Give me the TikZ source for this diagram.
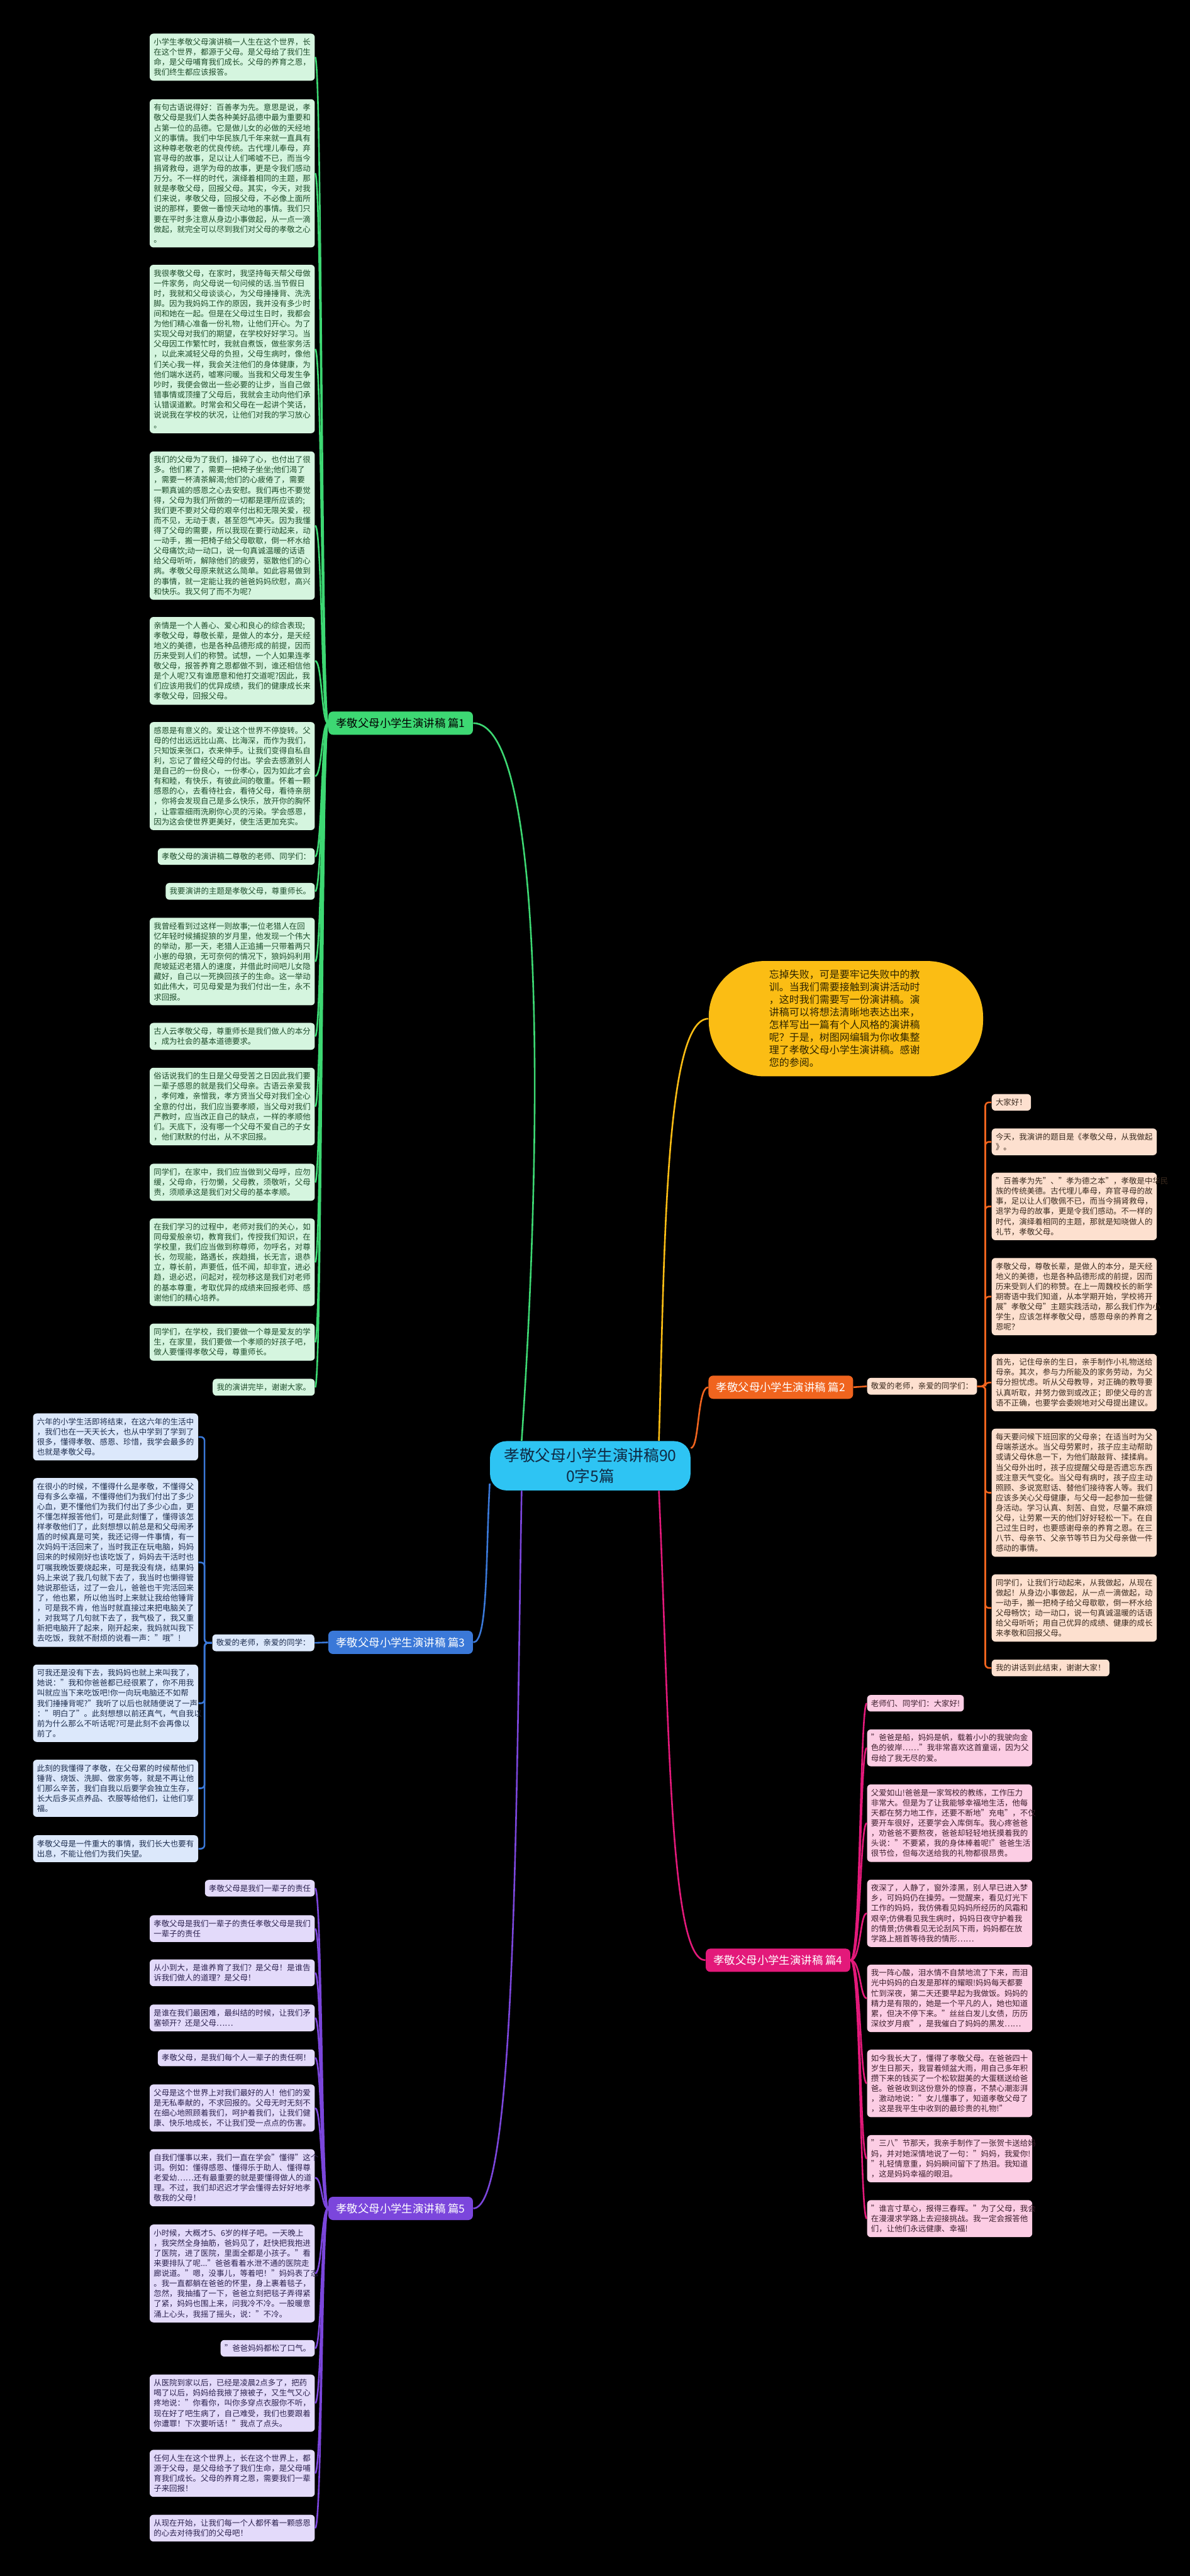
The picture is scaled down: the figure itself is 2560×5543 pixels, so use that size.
\documentclass[tikz,border=0pt]{standalone}
\usepackage{fontspec}
\setmainfont{Noto Sans CJK SC}
\usetikzlibrary{calc}

\definecolor{grn}{HTML}{3DD873}
\definecolor{grnfill}{HTML}{D5F5DF}
\definecolor{grntext}{HTML}{1E4D2B}
\definecolor{org}{HTML}{F0641E}
\definecolor{orgfill}{HTML}{FDE0CF}
\definecolor{orgtext}{HTML}{3A2A1E}
\definecolor{blu}{HTML}{3A78D8}
\definecolor{blufill}{HTML}{DCE8FB}
\definecolor{blutext}{HTML}{1E2E4F}
\definecolor{pnk}{HTML}{E3197A}
\definecolor{pnkfill}{HTML}{FCCDE4}
\definecolor{pnktext}{HTML}{3E1F2E}
\definecolor{vio}{HTML}{7B46DC}
\definecolor{viofill}{HTML}{E3DAFA}
\definecolor{viotext}{HTML}{2D2350}
\definecolor{yel}{HTML}{FBBD14}
\definecolor{yeltext}{HTML}{2E2400}
\definecolor{ctrfill}{HTML}{2EC4F3}
\definecolor{ctrtext}{HTML}{0F2A44}

\tikzset{
	leaf/.style={rounded corners=0.08cm, inner xsep=0.085cm, inner ysep=0.1cm, align=left, font=\fontsize{4.8pt}{6.2pt}\selectfont},
	wide/.style={text width=3.38cm},
	grnbox/.style={leaf, fill=grnfill, text=grntext},
	orgbox/.style={leaf, fill=orgfill, text=orgtext},
	blubox/.style={leaf, fill=blufill, text=blutext},
	pnkbox/.style={leaf, fill=pnkfill, text=pnktext},
	viobox/.style={leaf, fill=viofill, text=viotext},
	topic/.style={rounded corners=0.1cm, minimum width=3.11cm, minimum height=0.5cm, inner sep=0pt, font=\fontsize{6.7pt}{8pt}\selectfont},
	grnlink/.style={draw=grn, line width=1pt},
	orglink/.style={draw=org, line width=1pt},
	blulink/.style={draw=blu, line width=1pt},
	pnklink/.style={draw=pnk, line width=1pt},
	violink/.style={draw=vio, line width=1pt},
	yellink/.style={draw=yel, line width=1pt}
}

\begin{document}
\begin{tikzpicture}[x=0.01cm, y=-0.01cm]
	%background
	\fill[black] (0,0) rectangle (2560,5543);

	%center and topics
	\node[fill=ctrfill, text=ctrtext, rounded corners=0.35cm, minimum width=4.31cm, minimum height=1.06cm, align=center, font=\fontsize{9.5pt}{12.5pt}\selectfont] (ctr) at (1270,3154) {孝敬父母小学生演讲稿90\\0字5篇};
	\node[fill=yel, text=yeltext, rounded corners=1.2cm, minimum width=5.9cm, minimum height=2.48cm, text width=3.3cm, align=left, font=\fontsize{6.15pt}{7.7pt}\selectfont] (call) at (1820,2192) {忘掉失败，可是要牢记失败中的教\\训。当我们需要接触到演讲活动时\\，这时我们需要写一份演讲稿。演\\讲稿可以将想法清晰地表达出来，\\怎样写出一篇有个人风格的演讲稿\\呢？于是，树图网编辑为你收集整\\理了孝敬父母小学生演讲稿。感谢\\您的参阅。};
	\node[topic, fill=grn, text=black] (lab1) at (862,1556) {孝敬父母小学生演讲稿 篇1};
	\node[topic, fill=org, text=white] (lab2) at (1680,2985) {孝敬父母小学生演讲稿 篇2};
	\node[topic, fill=blu, text=white] (lab3) at (862,3534) {孝敬父母小学生演讲稿 篇3};
	\node[topic, fill=pnk, text=white] (lab4) at (1674,4218) {孝敬父母小学生演讲稿 篇4};
	\node[topic, fill=vio, text=white] (lab5) at (862,4752) {孝敬父母小学生演讲稿 篇5};
	\node[orgbox, anchor=west] (sub2) at (1865,2983) {敬爱的老师，亲爱的同学们：};
	\node[blubox, anchor=east] (sub3) at (677,3535) {敬爱的老师，亲爱的同学：};

	%branch 1
	\node[grnbox, wide, anchor=east] (b1) at (678,123) {小学生孝敬父母演讲稿一人生在这个世界，长\\在这个世界，都源于父母。是父母给了我们生\\命，是父母哺育我们成长。父母的养育之恩，\\我们终生都应该报答。};
	\node[grnbox, wide, anchor=east] (b2) at (678,373) {有句古语说得好：百善孝为先。意思是说，孝\\敬父母是我们人类各种美好品德中最为重要和\\占第一位的品德。它是做儿女的必做的天经地\\义的事情。我们中华民族几千年来就一直具有\\这种尊老敬老的优良传统。古代埋儿奉母，弃\\官寻母的故事，足以让人们唏嘘不已，而当今\\捐肾救母，退学为母的故事，更是令我们感动\\万分。不一样的时代，演绎着相同的主题，那\\就是孝敬父母，回报父母。其实，今天，对我\\们来说，孝敬父母，回报父母，不必像上面所\\说的那样，要做一番惊天动地的事情。我们只\\要在平时多注意从身边小事做起，从一点一滴\\做起，就完全可以尽到我们对父母的孝敬之心\\。};
	\node[grnbox, wide, anchor=east] (b3) at (678,751) {我很孝敬父母，在家时，我坚持每天帮父母做\\一件家务，向父母说一句问候的话.当节假日\\时，我就和父母谈谈心，为父母捶捶背、洗洗\\脚。因为我妈妈工作的原因，我并没有多少时\\间和她在一起。但是在父母过生日时，我都会\\为他们精心准备一份礼物，让他们开心。为了\\实现父母对我们的期望，在学校好好学习。当\\父母因工作繁忙时，我就自煮饭，做些家务活\\，以此来减轻父母的负担，父母生病时，像他\\们关心我一样，我会关注他们的身体健康，为\\他们端水送药，嘘寒问暖。当我和父母发生争\\吵时，我便会做出一些必要的让步，当自己做\\错事情或顶撞了父母后，我就会主动向他们承\\认错误道歉。时常会和父母在一起讲个笑话，\\说说我在学校的状况，让他们对我的学习放心\\。};
	\node[grnbox, wide, anchor=east] (b4) at (678,1131) {我们的父母为了我们，操碎了心，也付出了很\\多。他们累了，需要一把椅子坐坐;他们渴了\\，需要一杯清茶解渴;他们的心疲倦了，需要\\一颗真诚的感恩之心去安慰。我们再也不要觉\\得，父母为我们所做的一切都是理所应该的;\\我们更不要对父母的艰辛付出和无限关爱，视\\而不见，无动于衷，甚至怨气冲天。因为我懂\\得了父母的需要，所以我现在要行动起来，动\\一动手，搬一把椅子给父母歇歇，倒一杯水给\\父母痛饮;动一动口，说一句真诚温暖的话语\\给父母听听，解除他们的疲劳，驱散他们的心\\病。孝敬父母原来就这么简单。如此容易做到\\的事情，就一定能让我的爸爸妈妈欣慰，高兴\\和快乐。我又何了而不为呢?};
	\node[grnbox, wide, anchor=east] (b5) at (678,1422) {亲情是一个人善心、爱心和良心的综合表现;\\孝敬父母，尊敬长辈，是做人的本分，是天经\\地义的美德，也是各种品德形成的前提，因而\\历来受到人们的称赞。试想，一个人如果连孝\\敬父母，报答养育之恩都做不到，谁还相信他\\是个人呢?又有谁愿意和他打交道呢?因此，我\\们应该用我们的优异成绩，我们的健康成长来\\孝敬父母，回报父母。};
	\node[grnbox, wide, anchor=east] (b6) at (678,1670) {感恩是有意义的。爱让这个世界不停旋转。父\\母的付出远远比山高、比海深，而作为我们，\\只知饭来张口，衣来伸手。让我们变得自私自\\利，忘记了曾经父母的付出。学会去感激别人\\是自己的一份良心，一份孝心，因为如此才会\\有和睦，有快乐，有彼此间的敬重。怀着一颗\\感恩的心，去看待社会，看待父母，看待亲朋\\，你将会发现自己是多么快乐，放开你的胸怀\\，让霏霏细雨洗刷你心灵的污染。学会感恩，\\因为这会使世界更美好，使生活更加充实。};
	\node[grnbox, anchor=east] (b7) at (678,1843) {孝敬父母的演讲稿二尊敬的老师、同学们：};
	\node[grnbox, anchor=east] (b8) at (678,1918) {我要演讲的主题是孝敬父母，尊重师长。};
	\node[grnbox, wide, anchor=east] (b9) at (678,2069) {我曾经看到过这样一则故事;一位老猎人在回\\忆年轻时候捕捉狼的岁月里，他发现一个伟大\\的举动，那一天，老猎人正追捕一只带着两只\\小崽的母狼，无可奈何的情况下，狼妈妈利用\\爬坡延迟老猎人的速度，并借此时间吧儿女隐\\藏好，自己以一死换回孩子的生命。这一举动\\如此伟大，可见母爱是为我们付出一生，永不\\求回报。};
	\node[grnbox, wide, anchor=east] (b10) at (678,2230) {古人云孝敬父母，尊重师长是我们做人的本分\\，成为社会的基本道德要求。};
	\node[grnbox, wide, anchor=east] (b11) at (678,2381) {俗话说我们的生日是父母受苦之日因此我们要\\一辈子感恩的就是我们父母亲。古语云亲爱我\\，孝何难，亲憎我，孝方贤当父母对我们全心\\全意的付出，我们应当要孝顺，当父母对我们\\严教时，应当改正自己的缺点，一样的孝顺他\\们。天底下，没有哪一个父母不爱自己的子女\\，他们默默的付出，从不求回报。};
	\node[grnbox, wide, anchor=east] (b12) at (678,2544) {同学们，在家中，我们应当做到父母呼，应勿\\缓，父母命，行勿懒，父母教，须敬听，父母\\责，须顺承这是我们对父母的基本孝顺。};
	\node[grnbox, wide, anchor=east] (b13) at (678,2716) {在我们学习的过程中，老师对我们的关心，如\\同母爱般亲切，教育我们，传授我们知识，在\\学校里，我们应当做到称尊师，勿呼名，对尊\\长，勿现能，路遇长，疾趋揖，长无言，退恭\\立，尊长前，声要低，低不闻，却非宜，进必\\趋，退必迟，问起对，视勿移这是我们对老师\\的基本尊重，考取优异的成绩来回报老师、感\\谢他们的精心培养。};
	\node[grnbox, wide, anchor=east] (b14) at (678,2888) {同学们，在学校，我们要做一个尊是爱友的学\\生，在家里，我们要做一个孝顺的好孩子吧，\\做人要懂得孝敬父母，尊重师长。};
	\node[grnbox, anchor=east] (b15) at (678,2985) {我的演讲完毕，谢谢大家。};

	%branch 2
	\node[orgbox, anchor=west] (c1) at (2133,2372) {大家好！};
	\node[orgbox, wide, anchor=west] (c2) at (2133,2457) {今天，我演讲的题目是《孝敬父母，从我做起\\》。};
	\node[orgbox, wide, anchor=west] (c3) at (2133,2596) {"百善孝为先"、"孝为德之本"，孝敬是中华民\\族的传统美德。古代埋儿奉母，弃官寻母的故\\事，足以让人们敬佩不已，而当今捐肾救母，\\退学为母的故事，更是令我们感动。不一样的\\时代，演绎着相同的主题，那就是知晓做人的\\礼节，孝敬父母。};
	\node[orgbox, wide, anchor=west] (c4) at (2133,2790) {孝敬父母，尊敬长辈，是做人的本分，是天经\\地义的美德，也是各种品德形成的前提，因而\\历来受到人们的称赞。在上一周魏校长的新学\\期寄语中我们知道，从本学期开始，学校将开\\展"孝敬父母"主题实践活动，那么我们作为小\\学生，应该怎样孝敬父母，感恩母亲的养育之\\恩呢？};
	\node[orgbox, wide, anchor=west] (c5) at (2133,2975) {首先，记住母亲的生日，亲手制作小礼物送给\\母亲。其次，参与力所能及的家务劳动，为父\\母分担忧虑。听从父母教导，对正确的教导要\\认真听取，并努力做到或改正；即使父母的言\\语不正确，也要学会委婉地对父母提出建议。};
	\node[orgbox, wide, anchor=west] (c6) at (2133,3212) {每天要问候下班回家的父母亲；在适当时为父\\母端茶送水。当父母劳累时，孩子应主动帮助\\或请父母休息一下，为他们敲敲背、揉揉肩。\\当父母外出时，孩子应提醒父母是否遗忘东西\\或注意天气变化。当父母有病时，孩子应主动\\照顾、多说宽慰话、替他们接待客人等。我们\\应该多关心父母健康，与父母一起参加一些健\\身活动。学习认真、刻苦、自觉，尽量不麻烦\\父母，让劳累一天的他们好好轻松一下。在自\\己过生日时，也要感谢母亲的养育之恩。在三\\八节、母亲节、父亲节等节日为父母亲做一件\\感动的事情。};
	\node[orgbox, wide, anchor=west] (c7) at (2133,3460) {同学们，让我们行动起来，从我做起，从现在\\做起！从身边小事做起，从一点一滴做起，动\\一动手，搬一把椅子给父母歇歇，倒一杯水给\\父母畅饮；动一动口，说一句真诚温暖的话语\\给父母听听；用自己优异的成绩、健康的成长\\来孝敬和回报父母。};
	\node[orgbox, anchor=west] (c8) at (2133,3589) {我的讲话到此结束，谢谢大家！};

	%branch 3
	\node[blubox, wide, anchor=east] (e1) at (427,3092) {六年的小学生活即将结束，在这六年的生活中\\，我们也在一天天长大，也从中学到了学到了\\很多，懂得孝敬、感恩、珍惜，我学会最多的\\也就是孝敬父母。};
	\node[blubox, wide, anchor=east] (e2) at (427,3362) {在很小的时候，不懂得什么是孝敬，不懂得父\\母有多么幸福，不懂得他们为我们付出了多少\\心血，更不懂他们为我们付出了多少心血，更\\不懂怎样报答他们，可是此刻懂了，懂得该怎\\样孝敬他们了，此刻想想以前总是和父母闹矛\\盾的时候真是可笑，我还记得一件事情，有一\\次妈妈干活回来了，当时我正在玩电脑，妈妈\\回来的时候刚好也该吃饭了，妈妈去干活时也\\叮嘱我晚饭要烧起来，可是我没有烧，结果妈\\妈上来说了我几句就下去了，我当时也懒得管\\她说那些话，过了一会儿，爸爸也干完活回来\\了，他也累，所以他当时上来就让我给他锤背\\，可是我不肯，他当时就直接过来把电脑关了\\，对我骂了几句就下去了，我气极了，我又重\\新把电脑开了起来，刚开起来，我妈就叫我下\\去吃饭，我就不耐烦的说看一声："哦"!};
	\node[blubox, wide, anchor=east] (e3) at (427,3665) {可我还是没有下去，我妈妈也就上来叫我了，\\她说："我和你爸爸都已经很累了，你不用我\\叫就应当下来吃饭吧!你一向玩电脑还不如帮\\我们捶捶背呢?"我听了以后也就随便说了一声\\："明白了"。此刻想想以前还真气，气自我以\\前为什么那么不听话呢?可是此刻不会再像以\\前了。};
	\node[blubox, wide, anchor=east] (e4) at (427,3848) {此刻的我懂得了孝敬，在父母累的时候帮他们\\锤背、烧饭、洗脚、做家务等，就是不再让他\\们那么辛苦，我们自我以后要学会独立生存，\\长大后多买点养品、衣服等给他们，让他们享\\福。};
	\node[blubox, wide, anchor=east] (e5) at (427,3978) {孝敬父母是一件重大的事情，我们长大也要有\\出息，不能让他们为我们失望。};

	%branch 4
	\node[pnkbox, anchor=west] (d1) at (1865,3665) {老师们、同学们：大家好!};
	\node[pnkbox, wide, anchor=west] (d2) at (1865,3761) {"爸爸是船，妈妈是帆，载着小小的我驶向金\\色的彼岸……"我非常喜欢这首童谣，因为父\\母给了我无尽的爱。};
	\node[pnkbox, wide, anchor=west] (d3) at (1865,3923) {父爱如山!爸爸是一家驾校的教练，工作压力\\非常大。但是为了让我能够幸福地生活，他每\\天都在努力地工作，还要不断地"充电"，不仅\\要开车很好，还要学会入库倒车。我心疼爸爸\\，劝爸爸不要熬夜，爸爸却轻轻地抚摸着我的\\头说："不要紧，我的身体棒着呢!"爸爸生活\\很节俭，但每次送给我的礼物都很昂贵。};
	\node[pnkbox, wide, anchor=west] (d4) at (1865,4117) {夜深了，人静了，窗外漆黑，别人早已进入梦\\乡，可妈妈仍在操劳。一觉醒来，看见灯光下\\工作的妈妈，我仿佛看见妈妈所经历的风霜和\\艰辛;仿佛看见我生病时，妈妈日夜守护着我\\的情景;仿佛看见无论刮风下雨，妈妈都在放\\学路上翘首等待我的情形……};
	\node[pnkbox, wide, anchor=west] (d5) at (1865,4300) {我一阵心酸，泪水情不自禁地流了下来，而泪\\光中妈妈的白发是那样的耀眼!妈妈每天都要\\忙到深夜，第二天还要早起为我做饭。妈妈的\\精力是有限的，她是一个平凡的人，她也知道\\累，但决不停下来。"丝丝白发儿女债，历历\\深纹岁月痕"，是我催白了妈妈的黑发……};
	\node[pnkbox, wide, anchor=west] (d6) at (1865,4483) {如今我长大了，懂得了孝敬父母。在爸爸四十\\岁生日那天，我冒着倾盆大雨，用自己多年积\\攒下来的钱买了一个松软甜美的大蛋糕送给爸\\爸。爸爸收到这份意外的惊喜，不禁心潮澎湃\\，激动地说："女儿懂事了，知道孝敬父母了\\，这是我平生中收到的最珍贵的礼物!"};
	\node[pnkbox, wide, anchor=west] (d7) at (1865,4645) {"三八"节那天，我亲手制作了一张贺卡送给妈\\妈，并对她深情地说了一句："妈妈，我爱你!\\"礼轻情意重，妈妈瞬间留下了热泪。我知道\\，这是妈妈幸福的眼泪。};
	\node[pnkbox, wide, anchor=west] (d8) at (1865,4774) {"谁言寸草心，报得三春晖。"为了父母，我会\\在漫漫求学路上去迎接挑战。我一定会报答他\\们，让他们永远健康、幸福!};

	%branch 5
	\node[viobox, anchor=east] (f1) at (678,4063) {孝敬父母是我们一辈子的责任};
	\node[viobox, wide, anchor=east] (f2) at (678,4150) {孝敬父母是我们一辈子的责任孝敬父母是我们\\一辈子的责任};
	\node[viobox, wide, anchor=east] (f3) at (678,4245) {从小到大，是谁养育了我们？是父母！是谁告\\诉我们做人的道理？是父母！};
	\node[viobox, wide, anchor=east] (f4) at (678,4342) {是谁在我们最困难，最纠结的时候，让我们矛\\塞顿开？还是父母……};
	\node[viobox, anchor=east] (f5) at (678,4428) {孝敬父母，是我们每个人一辈子的责任啊！};
	\node[viobox, wide, anchor=east] (f6) at (678,4536) {父母是这个世界上对我们最好的人！他们的爱\\是无私奉献的，不求回报的。父母无时无刻不\\在细心地照顾着我们，呵护着我们，让我们健\\康、快乐地成长，不让我们受一点点的伤害。};
	\node[viobox, wide, anchor=east] (f7) at (678,4686) {自我们懂事以来，我们一直在学会"懂得"这个\\词。例如：懂得感恩、懂得乐于助人、懂得尊\\老爱幼……还有最重要的就是要懂得做人的道\\理。不过，我们却迟迟才学会懂得去好好地孝\\敬我的父母！};
	\node[viobox, wide, anchor=east] (f8) at (678,4892) {小时候，大概才5、6岁的样子吧。一天晚上\\，我突然全身抽筋，爸妈见了，赶快把我抱进\\了医院，进了医院，里面全都是小孩子。"看\\来要排队了呢..."爸爸看着水泄不通的医院走\\廊说道。"嗯，没事儿，等着吧！"妈妈表了态\\。我一直都躺在爸爸的怀里，身上裹着毯子，\\忽然，我抽搐了一下，爸爸立刻把毯子弄得紧\\了紧，妈妈也围上来，问我冷不冷。一股暖意\\涌上心头，我摇了摇头，说："不冷。};
	\node[viobox, anchor=east] (f9) at (678,5053) {"爸爸妈妈都松了口气。};
	\node[viobox, wide, anchor=east] (f10) at (678,5171) {从医院到家以后，已经是凌晨2点多了，把药\\喝了以后，妈妈给我掖了掖被子，又生气又心\\疼地说："你看你，叫你多穿点衣服你不听，\\现在好了吧生病了，自己难受，我们也要跟着\\你遭罪！下次要听话！"我点了点头。};
	\node[viobox, wide, anchor=east] (f11) at (678,5322) {任何人生在这个世界上，长在这个世界上，都\\源于父母，是父母给予了我们生命，是父母哺\\育我们成长。父母的养育之恩，需要我们一辈\\子来回报！};
	\node[viobox, wide, anchor=east] (f12) at (678,5440) {从现在开始，让我们每一个人都怀着一颗感恩\\的心去对待我们的父母吧！};

	%links from center
	\draw[grnlink] (ctr.160) .. controls (1170,2400) and (1170,1556) .. (lab1.east);
	\draw[yellink] (ctr.20) .. controls (1430,2700) and (1430,2192) .. (call.west);
	\draw[orglink] (ctr.10) .. controls (1505,3116) and (1500,2985) .. (lab2.west);
	\draw[blulink] (ctr.190) .. controls (1045,3350) and (1050,3534) .. (lab3.east);
	\draw[pnklink] (ctr.-20) .. controls (1440,3700) and (1440,4218) .. (lab4.west);
	\draw[violink] (ctr.200) .. controls (1110,3900) and (1110,4752) .. (lab5.east);
	\draw[orglink] (lab2.east) -- (sub2.west);
	\draw[blulink] (lab3.west) -- (sub3.east);

	%links to leaves
	\foreach \i in {1,...,15} \draw[grnlink] (lab1.west) .. controls +(-14,0) and +(15,0) .. (b\i.east);
	\foreach \i in {1,...,8} \draw[orglink, rounded corners=0.08cm] (sub2.east) -- ++(17,0) |- (c\i.west);
	\foreach \i in {1,...,5} \draw[blulink, rounded corners=0.08cm] (sub3.west) -- ++(-16,0) |- (e\i.east);
	\foreach \i in {1,...,8} \draw[pnklink] (lab4.east) .. controls +(22,0) and +(-15,0) .. (d\i.west);
	\foreach \i in {1,...,12} \draw[violink] (lab5.west) .. controls +(-14,0) and +(15,0) .. (f\i.east);
\end{tikzpicture}
\end{document}
